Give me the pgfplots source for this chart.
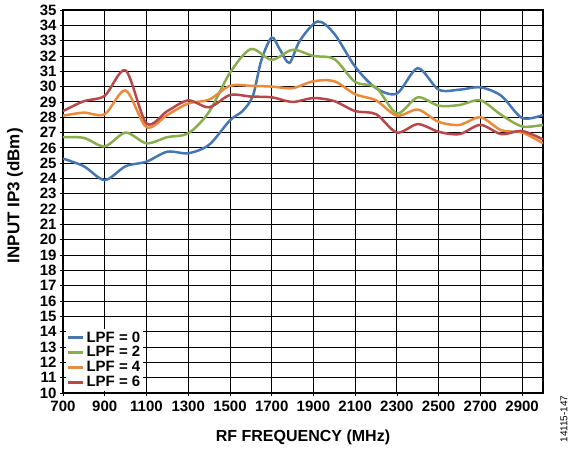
\documentclass[border=0pt]{standalone}
\usepackage{fontspec}
\setmainfont{Liberation Sans}
\usepackage{pgfplots}
\pgfplotsset{compat=1.18}
\definecolor{cblue}{HTML}{4677B3}
\definecolor{cgreen}{HTML}{8AAE4E}
\definecolor{corange}{HTML}{EB8A3A}
\definecolor{cred}{HTML}{B8474A}
\begin{document}
\begin{tikzpicture}
\useasboundingbox (-63pt,-57pt) rectangle (508pt,393pt);
\begin{axis}[
  scale only axis, width=480pt, height=383pt,
  xmin=700, xmax=3000, ymin=10, ymax=35,
  xtick={700,900,...,2900}, ytick={10,11,...,35},
  grid=major, major grid style={black, line width=0.9pt},
  axis line style={black, line width=1.2pt},
  tick style={black, line width=0.8pt}, tick align=outside, major tick length=3pt, tick pos=left,
  ticklabel style={font=\fontsize{15}{15}\selectfont\bfseries},
  /pgf/number format/assume math mode=true,
  /pgf/number format/1000 sep={},
  xticklabel style={yshift=-1pt},
  yticklabel style={xshift=0pt},
  xlabel={RF FREQUENCY (MHz)}, ylabel={INPUT IP3 (dBm)},
  xlabel style={font=\fontsize{16}{16}\selectfont\bfseries, at={(axis description cs:0.5,-0.1149)}, anchor=center},
  ylabel style={font=\fontsize{17}{17}\selectfont\bfseries, at={(axis description cs:-0.1,0.515)}, anchor=center},
  legend style={at={(axis description cs:0.006,0.004)}, anchor=south west, draw=none, fill=white,
    font=\fontsize{15}{15}\selectfont\bfseries, row sep=-1pt, inner sep=1pt},
  legend cell align=left,
  legend image code/.code={\draw[#1, line width=2.5pt] (0pt,0pt) -- (15pt,0pt);},
  every axis plot/.append style={line width=2.5pt, smooth, tension=0.5, no markers},
]
\addplot[cblue] coordinates {
(700,25.3) (800,24.8) (900,23.9) (1000,24.8) (1100,25.1) (1200,25.75) (1300,25.65)
(1400,26.2) (1500,27.8) (1560,28.4) (1610,29.4) (1650,31.7) (1700,33.2) (1740,32.4)
(1785,31.55) (1835,33.0) (1920,34.25) (2000,33.45) (2100,31.3) (2200,29.9) (2300,29.55)
(2400,31.2) (2500,29.8) (2600,29.8) (2700,29.95) (2800,29.4) (2900,27.95) (3000,28.15)};
\addlegendentry{LPF = 0}
\addplot[cgreen] coordinates {
(700,26.7) (800,26.65) (900,26.1) (1000,27.0) (1100,26.3) (1200,26.7) (1300,26.95)
(1400,28.35) (1500,30.9) (1600,32.45) (1700,31.75) (1800,32.4) (1900,32.0) (2000,31.8)
(2100,30.3) (2200,29.95) (2300,28.25) (2400,29.3) (2500,28.75) (2600,28.8) (2700,29.1)
(2800,28.15) (2900,27.4) (3000,27.5)};
\addlegendentry{LPF = 2}
\addplot[corange] coordinates {
(700,28.1) (800,28.3) (900,28.2) (1000,29.75) (1100,27.35) (1200,28.15) (1300,28.9)
(1400,29.15) (1500,30.05) (1600,30.05) (1700,30.0) (1800,29.9) (1900,30.35) (2000,30.35)
(2100,29.5) (2200,29.1) (2300,28.1) (2400,28.5) (2500,27.7) (2600,27.5) (2700,28.0)
(2800,27.15) (2900,27.0) (3000,26.3)};
\addlegendentry{LPF = 4}
\addplot[cred] coordinates {
(700,28.4) (800,29.05) (900,29.4) (1000,31.05) (1100,27.6) (1200,28.4) (1300,29.1)
(1400,28.65) (1500,29.45) (1600,29.35) (1700,29.3) (1800,29.0) (1900,29.25) (2000,29.05)
(2100,28.4) (2200,28.2) (2300,27.0) (2400,27.55) (2500,27.05) (2600,26.9) (2700,27.5)
(2800,26.9) (2900,27.1) (3000,26.55)};
\addlegendentry{LPF = 6}
\end{axis}
\node[rotate=90, inner sep=0pt, font=\fontsize{10}{10}\selectfont] at (501pt,-26pt) {14115-147};
\end{tikzpicture}
\end{document}
